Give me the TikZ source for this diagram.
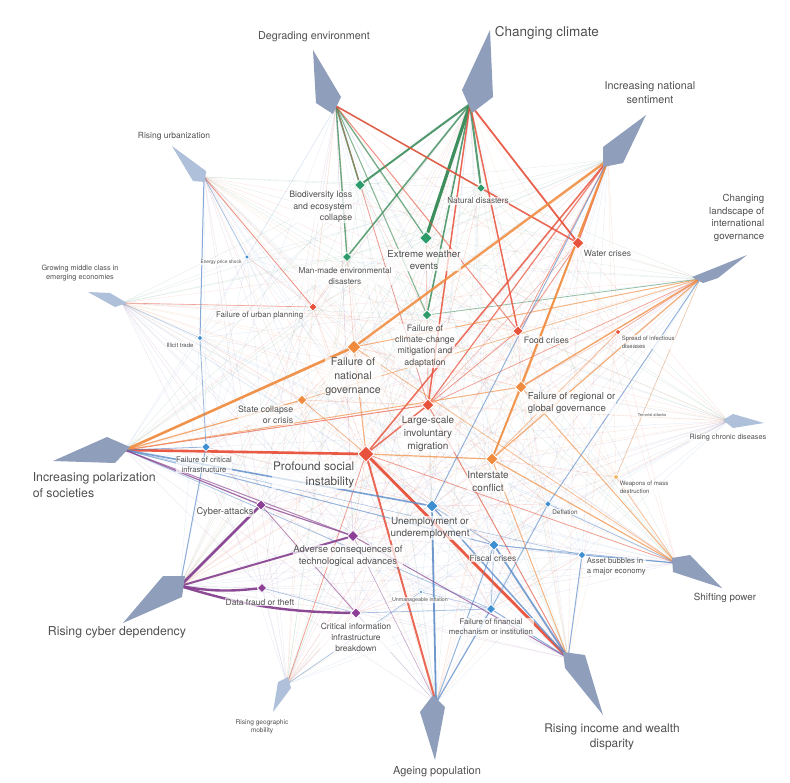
\documentclass[tikz,border=0pt]{standalone}
\usepackage{fontspec}
\setmainfont{TeX Gyre Heros}
\usetikzlibrary{shapes.geometric,backgrounds}
\definecolor{wgreen}{HTML}{2E9B6B}
\definecolor{wred}{HTML}{E8513B}
\definecolor{worange}{HTML}{F08A3C}
\definecolor{wblue}{HTML}{3D8FD1}
\definecolor{wpurple}{HTML}{8D3F97}
\definecolor{wgold}{HTML}{F2B45E}
\definecolor{lgreen}{HTML}{3F8F5E}
\definecolor{lblue}{HTML}{5A8BC9}
\definecolor{lpurple}{HTML}{86408F}
\definecolor{wkite}{HTML}{8F9EBB}
\definecolor{wkitelt}{HTML}{AFC0DB}
\definecolor{wtext}{HTML}{505050}
\tikzset{
  every picture/.style={line cap=round, line join=round},
  fsz/.style={font={\fontsize{#1}{#1}\selectfont\baselineskip=1.3\fontdimen6\font}},
  lbl/.style={text=wtext, align=center, inner sep=0.6pt, fill=white, fill opacity=0.7, text opacity=1},
  kite/.style={fill=wkite},
  kitelt/.style={fill=wkitelt},
  risk/.style={diamond, aspect=1, inner sep=0pt, draw=white, line width=0.7pt, minimum size=#1},
  web/.style={line width=0.35pt, draw opacity=0.16},
  envl/.style={draw=lgreen},
  socl/.style={draw=wred},
  geol/.style={draw=worange},
  ecol/.style={draw=lblue},
  tecl/.style={draw=lpurple},
}
\begin{document}
\begin{tikzpicture}[x=1pt, y=-1pt]
\useasboundingbox (0,0) rectangle (790,782);
% trends
\fill[kite] (490,30) -- (462,90) -- (472,113) -- (493,97) -- cycle;
\fill[kite] (313,50) -- (341,97) -- (333,114) -- (316,103) -- cycle;
\fill[kitelt] (172,146) -- (206,171) -- (205,182) -- (193,181) -- cycle;
\fill[kite] (646,115) -- (623,163) -- (603,167) -- (603,147) -- cycle;
\fill[kite] (747,255) -- (718,278) -- (703,283) -- (692,277) -- cycle;
\fill[kitelt] (764,423) -- (733,428) -- (723,420) -- (733,414) -- cycle;
\fill[kite] (722,588) -- (673,572) -- (672,558) -- (690,555) -- cycle;
\fill[kite] (603,715) -- (565,668) -- (563,652) -- (585,655) -- cycle;
\fill[kite] (435,760) -- (420,712) -- (433,695) -- (445,707) -- cycle;
\fill[kitelt] (273,712) -- (278,682) -- (288,677) -- (291,688) -- cycle;
\fill[kite] (123,623) -- (163,576) -- (185,576) -- (182,597) -- cycle;
\fill[kite] (53,461) -- (107,437) -- (130,447) -- (115,463) -- cycle;
\fill[kitelt] (88,292) -- (110,293) -- (127,303) -- (115,307) -- cycle;
\coordinate (cc) at (470,104);
\coordinate (de) at (336,106);
\coordinate (ru) at (204,177);
\coordinate (ins) at (608,160);
\coordinate (cl) at (700,279);
\coordinate (rcd) at (728,421);
\coordinate (sp) at (676,563);
\coordinate (rid) at (568,658);
\coordinate (ap) at (436,703);
\coordinate (rgm) at (287,684);
\coordinate (rcyd) at (180,586);
\coordinate (ip) at (125,450);
\coordinate (gmc) at (122,303);
% risks
\node[risk=11pt, fill=wgreen] (bio) at (360,185) {};
\node[risk=9pt, fill=wgreen] (nd) at (481,188) {};
\node[risk=13pt, fill=wgreen] (ew) at (426,238) {};
\node[risk=9.5pt, fill=wgreen] (mm) at (347,257) {};
\node[risk=10pt, fill=wgreen] (fcc) at (427,315) {};
\node[risk=12pt, fill=wred] (wc) at (578,243) {};
\node[risk=8.5pt, fill=wred] (fup) at (313,307) {};
\node[risk=10.5pt, fill=wred] (fc) at (518,331) {};
\node[risk=12pt, fill=wred] (lim) at (428,405) {};
\node[risk=16pt, fill=wred] (psi) at (366,454) {};
\node[risk=6pt, fill=wred] (sid) at (618,332) {};
\node[risk=14pt, fill=worange] (fng) at (354,347) {};
\node[risk=10pt, fill=worange] (scc) at (302,400) {};
\node[risk=12pt, fill=worange] (frg) at (521,387) {};
\node[risk=12.5pt, fill=worange] (ic) at (492,459) {};
\node[risk=6pt, fill=wgold] (wmd) at (616,477) {};
\node[risk=5pt, fill=wblue] (eps) at (247,257) {};
\node[risk=6pt, fill=wblue] (it) at (200,338) {};
\node[risk=9pt, fill=wblue] (fci) at (206,447) {};
\node[risk=12.5pt, fill=wblue] (une) at (432,506) {};
\node[risk=10.5pt, fill=wblue] (fis) at (494,545) {};
\node[risk=7pt, fill=wblue] (def) at (548,504) {};
\node[risk=8pt, fill=wblue] (ab) at (582,555) {};
\node[risk=4pt, fill=wblue] (ui) at (421,592) {};
\node[risk=9.5pt, fill=wblue] (ffm) at (491,609) {};
\node[risk=10.5pt, fill=wpurple] (ca) at (261,505) {};
\node[risk=11.5pt, fill=wpurple] (ac) at (353,536) {};
\node[risk=9.5pt, fill=wpurple] (dft) at (262,588) {};
\node[risk=10.5pt, fill=wpurple] (cib) at (356,613) {};
% trend labels
\node[lbl, fsz=13.5, anchor=west] (cc-l) at (494,33) {Changing climate};
\node[lbl, fsz=10.8] (de-l) at (314,37) {Degrading environment};
\node[lbl, fsz=8.5] (ru-l) at (174,136) {Rising urbanization};
\node[lbl, fsz=10.8] (ins-l) at (650,93) {Increasing national\\sentiment};
\node[lbl, fsz=9.7, align=right, anchor=east] (cl-l) at (765,218) {Changing\\landscape of\\international\\governance};
\node[lbl, fsz=7.3] (rcd-l) at (728,438) {Rising chronic diseases};
\node[lbl, fsz=9.8] (sp-l) at (725,598) {Shifting power};
\node[lbl, fsz=11.9] (rid-l) at (612,737) {Rising income and wealth\\disparity};
\node[lbl, fsz=11] (ap-l) at (437,772) {Ageing population};
\node[lbl, fsz=6.6] (rgm-l) at (262,727) {Rising geographic\\mobility};
\node[lbl, fsz=12.3] (rcyd-l) at (117,632) {Rising cyber dependency};
\node[lbl, fsz=12.3, align=left, anchor=west] (ip-l) at (32,485) {Increasing polarization\\of societies};
\node[lbl, fsz=7.3] (gmc-l) at (80,273) {Growing middle class in\\emerging economies};
% risk labels
\node[lbl, fsz=8.8, align=right, anchor=east] (bio-l) at (353,207) {Biodiversity loss\\and ecosystem\\collapse};
\node[lbl, fsz=8.2] (nd-l) at (478,201) {Natural disasters};
\node[lbl, fsz=9.7] (ew-l) at (424,260) {Extreme weather\\events};
\node[lbl, fsz=8.2] (mm-l) at (345,276) {Man-made environmental\\disasters};
\node[lbl, fsz=8.8] (fcc-l) at (425,346) {Failure of\\climate-change\\mitigation and\\adaptation};
\node[lbl, fsz=8.6, anchor=west] (wc-l) at (583,253) {Water crises};
\node[lbl, fsz=7.9, anchor=east] (fup-l) at (304,315) {Failure of urban planning};
\node[lbl, fsz=8.8, anchor=west] (fc-l) at (523,340) {Food crises};
\node[lbl, fsz=10] (lim-l) at (428,434) {Large-scale\\involuntary\\migration};
\node[lbl, fsz=11.8, align=right, anchor=east] (psi-l) at (355,475) {Profound social\\instability};
\node[lbl, fsz=6, align=left, anchor=west] (sid-l) at (621,342) {Spread of infectious\\diseases};
\node[lbl, fsz=10.7] (fng-l) at (353,377) {Failure of\\national\\governance};
\node[lbl, fsz=8.8, align=right, anchor=east] (scc-l) at (294,415) {State collapse\\or crisis};
\node[lbl, fsz=9.6, align=left, anchor=west] (frg-l) at (527,403) {Failure of regional or\\global governance};
\node[lbl, fsz=10] (ic-l) at (488,481) {Interstate\\conflict};
\node[lbl, fsz=4] (ta-l) at (652,415) {Terrorist attacks};
\node[lbl, fsz=6.1, align=left, anchor=west] (wmd-l) at (619,487) {Weapons of mass\\destruction};
\node[lbl, fsz=4.8] (eps-l) at (221,262) {Energy price shock};
\node[lbl, fsz=6] (it-l) at (180,345) {Illicit trade};
\node[lbl, fsz=7.7] (fci-l) at (204,465) {Failure of critical\\infrastructure};
\node[lbl, fsz=9.9] (une-l) at (430,528) {Unemployment or\\underemployment};
\node[lbl, fsz=8.5] (fis-l) at (493,558) {Fiscal crises};
\node[lbl, fsz=6.4] (def-l) at (565,512) {Deflation};
\node[lbl, fsz=7.7, align=left, anchor=west] (ab-l) at (586,567) {Asset bubbles in\\a major economy};
\node[lbl, fsz=5.3] (ui-l) at (420,600) {Unmanageable inflation};
\node[lbl, fsz=7.8] (ffm-l) at (491,627) {Failure of financial\\mechanism or institution};
\node[lbl, fsz=9.3] (ca-l) at (225,512) {Cyber-attacks};
\node[lbl, fsz=9.5] (ac-l) at (348,556) {Adverse consequences of\\technological advances};
\node[lbl, fsz=8.5] (dft-l) at (260,602) {Data fraud or theft};
\node[lbl, fsz=8.5] (cib-l) at (356,637) {Critical information\\infrastructure\\breakdown};
% connections, behind everything
\begin{pgfonlayer}{background}
\fill[white] (0,0) rectangle (790,782);
\foreach \k in {cc,de,ru,ins,cl,rcd,sp,rid,ap,rgm,rcyd,ip,gmc}{
  \foreach \r in {bio,nd,ew,mm,fcc} \draw[web, lgreen] (\k) -- (\r);
  \foreach \r in {wc,fup,fc,lim,psi,sid} \draw[web, wred] (\k) -- (\r);
  \foreach \r in {fng,scc,frg,ic,wmd} \draw[web, worange] (\k) -- (\r);
  \foreach \r in {eps,it,fci,une,fis,def,ab,ui,ffm} \draw[web, lblue] (\k) -- (\r);
  \foreach \r in {ca,ac,dft,cib} \draw[web, lpurple] (\k) -- (\r);
}
\foreach \a/\b in {psi/fng,psi/scc,psi/une,psi/fis,psi/ac,lim/ic,lim/fc,lim/wc,fng/scc,fng/frg,fng/lim,ic/wmd,ic/une,ic/def,frg/sid,frg/fc,wc/fc,fc/fcc,fcc/ew,fcc/lim,scc/fci,fci/une,une/ffm,fis/def,ab/ffm,ca/cib,ca/fci,ac/une,cib/ui,fup/psi,fup/mm,eps/fup,it/scc,scc/lim,ew/lim,bio/fcc,mm/fng,wc/lim,nd/lim,une/def}
  \draw[line width=0.4pt, draw=wred, draw opacity=0.25] (\a) -- (\b);
\foreach \a/\b/\w/\o in {cc/ew/3.2/1, cc/bio/2/0.9, cc/mm/1.6/0.8, cc/nd/2/0.85, cc/fcc/1.6/0.85,
    de/bio/1.6/0.8, de/ew/1.3/0.7, de/mm/1.4/0.75, de/fcc/1/0.6, de/nd/0.8/0.5, cl/fcc/0.8/0.5}
  \draw[envl, line width=\w pt, draw opacity=\o] (\a) -- (\b);
\foreach \a/\b/\w/\o in {cc/wc/1.8/0.9, cc/fc/1.5/0.85, cc/lim/1.5/0.85, de/wc/1.6/0.85, de/fc/1/0.6,
    de/lim/0.8/0.5, ins/psi/1.6/0.8, ins/lim/1.2/0.7, ip/psi/2.6/0.95, rid/psi/2.8/0.95,
    ap/psi/2/0.85, ip/lim/1/0.6, psi/lim/1.5/0.8, ru/fup/0.8/0.6, gmc/fup/0.6/0.5, wc/fc/0.8/0.5,
    fc/lim/0.8/0.5, cl/lim/0.7/0.5, ins/fc/0.8/0.5, cl/sid/0.6/0.5, rid/lim/1/0.6, rgm/psi/0.8/0.5,
    sp/psi/0.8/0.5, ins/wc/1.2/0.7}
  \draw[socl, line width=\w pt, draw opacity=\o] (\a) -- (\b);
\foreach \a/\b/\w/\o in {ip/fng/2.6/0.9, ip/scc/1.2/0.7, ip/frg/1/0.6, ins/fng/2.4/0.85, ins/frg/2/0.85,
    frg/ic/1.8/0.85, cl/frg/1.4/0.75, cl/ic/1.2/0.65, cl/fng/1/0.6, cl/scc/0.8/0.5, psi/ic/1.2/0.7,
    sp/ic/1.2/0.65, sp/frg/1/0.6, sp/fng/0.8/0.5, ins/ic/1/0.6, fng/psi/1/0.6, scc/psi/0.8/0.5,
    rid/ic/1/0.6, sp/wmd/0.6/0.5, cl/wmd/0.5/0.4, sid/ic/0.8/0.5}
  \draw[geol, line width=\w pt, draw opacity=\o] (\a) -- (\b);
\foreach \a/\b/\w/\o in {ip/une/1.6/0.8, ip/fis/1/0.6, ip/fci/0.8/0.6, ip/ffm/0.7/0.5, ip/ab/0.6/0.4,
    rid/une/1.5/0.75, rid/fis/1.8/0.8, rid/ffm/1/0.65, rid/ab/1/0.65, ap/une/1.8/0.85, ap/ffm/1.2/0.7,
    ap/fis/1/0.6, sp/ab/1/0.65, sp/def/0.7/0.5, sp/fis/0.8/0.5, ru/it/1/0.7, it/fci/0.8/0.6,
    rcyd/fci/1/0.65, ins/une/1/0.6, cl/def/1/0.6, def/ffm/1/0.6, une/fis/0.8/0.5, fis/ffm/0.8/0.5,
    ru/eps/0.6/0.5, gmc/it/0.5/0.4, ab/fis/0.8/0.5, rgm/ui/0.5/0.4, ui/ffm/0.6/0.5, cib/ffm/0.8/0.5,
    dft/cib/0.6/0.5}
  \draw[ecol, line width=\w pt, draw opacity=\o] (\a) -- (\b);
\foreach \a/\b/\w/\o in {rcyd/ca/2.6/0.95, rcyd/ac/2/0.9, ip/ca/1.2/0.75, ip/ac/1/0.6, ca/ac/1.2/0.75,
    rid/ac/1/0.65, ca/cib/0.8/0.5, ap/ac/0.6/0.4}
  \draw[tecl, line width=\w pt, draw opacity=\o] (\a) -- (\b);
\draw[tecl, line width=2.4pt, draw opacity=0.95] (rcyd) to[bend right=8] (dft);
\draw[tecl, line width=2.4pt, draw opacity=0.95] (rcyd) to[bend right=8] (cib);
\end{pgfonlayer}
\end{tikzpicture}
\end{document}
